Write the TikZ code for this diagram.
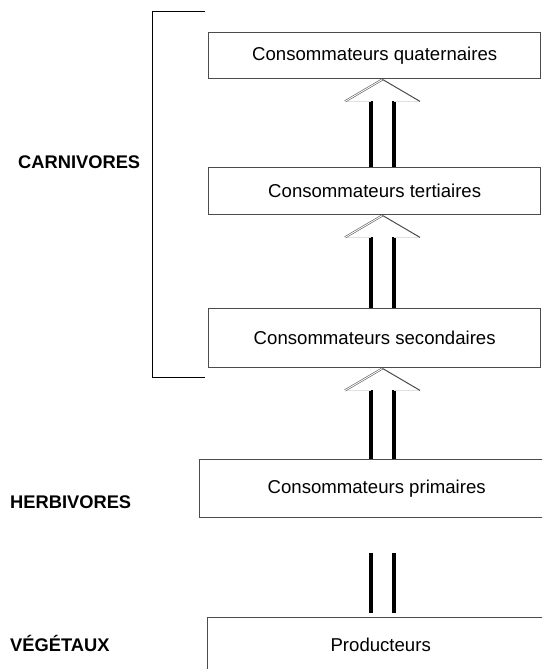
\documentclass[tikz,border=0pt]{standalone}
\usepackage{fontspec}
\setmainfont{Liberation Sans}
\usetikzlibrary{positioning,calc}
\tikzset {
    style box/.style={
        draw=black!70,
        fill=white,
        line width=1.4pt,
        rectangle, % Set the shape as a rectangle
        inner sep=0pt,
        anchor=north west,
        align=center,
        font=\fontsize{18.6}{22}\selectfont,
    },
    style label/.style={
        anchor=base west,
        inner sep=0pt,
        font=\fontsize{18.3}{22}\selectfont\bfseries,
    },
    style shaft/.style={
        draw=black,
        line width=3.3pt,
    },
    style head/.style={
        draw=black!65,
        line width=0.6pt,
        double=white,
        double distance=0.9pt,
    },
    style wing/.style={
        draw=black!70,
        line width=1pt,
    },
    style base/.style={
        draw=black!12,
        line width=1pt,
    },
    style bracket/.style={
        draw=black,
        line width=1pt,
    },
}

\begin{document}
\begin{tikzpicture}[x=1pt, y=-1pt]
        \clip (0,0) rectangle (542,669);

        % boxes
        \node[style box, minimum width=332, minimum height=46] (quat) at (208,32) {Consommateurs quaternaires};
        \node[style box, minimum width=332, minimum height=47] (tert) at (208,167) {Consommateurs tertiaires};
        \node[style box, minimum width=332, minimum height=59] (sec) at (208,308) {Consommateurs secondaires};
        \node[style box, minimum width=354, minimum height=58] (prim) at (199,459) {Consommateurs primaires};
        \node[style box, minimum width=346, minimum height=54] (prod) at (207,617) {Producteurs};

        % labels
        \node[style label] (carn) at (18,168.3) {CARNIVORES};
        \node[style label] (herb) at (10,508.3) {HERBIVORES};
        \node[style label] (veg) at (10,651.5) {VÉGÉTAUX};

        \draw[style bracket] (205,12) -| (152,377) -- (205,377);

        % arrows
        \coordinate (axis) at (382.5,0);
        \coordinate (lshaft) at (371,0);
        \coordinate (rshaft) at (394,0);
        \coordinate (lwing) at (345,0);
        \coordinate (rwing) at (420,0);

        \coordinate (h1) at ($(axis |- quat.south)+(0,22)$);
        \draw[style shaft] (lshaft |- tert.north) -- (lshaft |- h1);
        \draw[style shaft] (rshaft |- tert.north) -- (rshaft |- h1);
        \draw[style base] (lwing |- h1) -- (lshaft |- h1) (rshaft |- h1) -- (rwing |- h1);
        \draw[style head] (lwing |- h1) -- (axis |- quat.south);
        \draw[style wing] (axis |- quat.south) -- (rwing |- h1);

        \coordinate (h2) at ($(axis |- tert.south)+(0,22)$);
        \draw[style shaft] (lshaft |- sec.north) -- (lshaft |- h2);
        \draw[style shaft] (rshaft |- sec.north) -- (rshaft |- h2);
        \draw[style base] (lwing |- h2) -- (lshaft |- h2) (rshaft |- h2) -- (rwing |- h2);
        \draw[style head] (lwing |- h2) -- (axis |- tert.south);
        \draw[style wing] (axis |- tert.south) -- (rwing |- h2);

        \coordinate (h3) at ($(axis |- sec.south)+(0,22)$);
        \draw[style shaft] (lshaft |- prim.north) -- (lshaft |- h3);
        \draw[style shaft] (rshaft |- prim.north) -- (rshaft |- h3);
        \draw[style base] (lwing |- h3) -- (lshaft |- h3) (rshaft |- h3) -- (rwing |- h3);
        \draw[style head] (lwing |- h3) -- (axis |- sec.south);
        \draw[style wing] (axis |- sec.south) -- (rwing |- h3);

        \draw[style shaft] ($(lshaft |- prim.south)+(0,35)$) -- ($(lshaft |- prod.north)+(0,-4)$);
        \draw[style shaft] ($(rshaft |- prim.south)+(0,35)$) -- ($(rshaft |- prod.north)+(0,-4)$);

    \end{tikzpicture}
\end{document}
